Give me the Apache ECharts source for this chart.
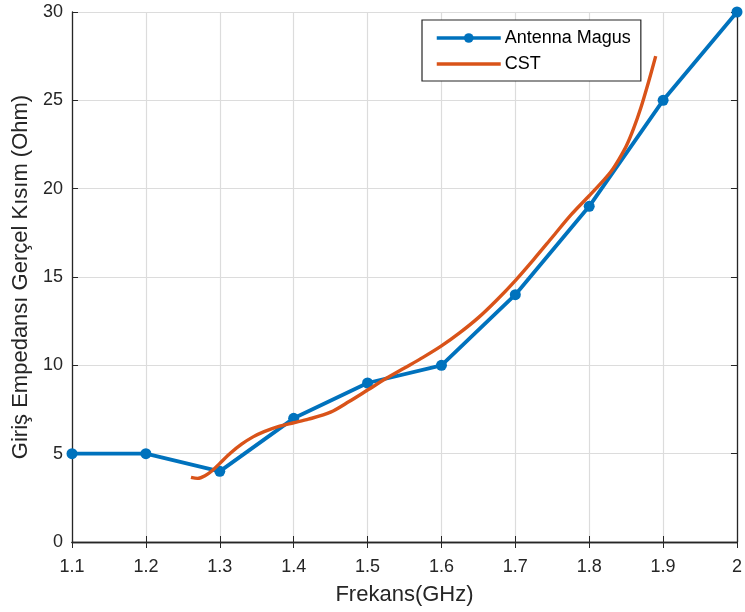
<!DOCTYPE html>
<html>
<head>
<meta charset="utf-8">
<script src="https://cdn.jsdelivr.net/npm/echarts@6/dist/echarts.min.js"></script>
<style>html,body{margin:0;padding:0;background:#fff}#c{width:745px;height:612px}</style>
</head>
<body>
<div id="c"></div>
<script>
const magusFreq = [1.1, 1.2, 1.3, 1.4, 1.5, 1.6, 1.7, 1.8, 1.9, 2.0];
const magusVal  = [5, 5, 4, 7, 9, 10, 14, 19, 25, 30];
const cstFreq = [1.261, 1.27, 1.28, 1.29, 1.30, 1.315, 1.33, 1.345, 1.36, 1.38, 1.40, 1.42, 1.45, 1.475, 1.50, 1.525, 1.55, 1.575, 1.60, 1.625, 1.65, 1.675, 1.70, 1.725, 1.75, 1.775, 1.80, 1.82, 1.83, 1.84, 1.85, 1.86, 1.87, 1.88, 1.89];
const cstVal  = [3.66, 3.6, 3.75, 4.05, 4.45, 5.05, 5.55, 5.95, 6.25, 6.55, 6.75, 6.95, 7.35, 7.95, 8.6, 9.25, 9.85, 10.45, 11.1, 11.85, 12.7, 13.7, 14.8, 16.0, 17.25, 18.5, 19.6, 20.5, 21.0, 21.65, 22.4, 23.4, 24.6, 26.0, 27.5];
const seriesNames = ['Antenna Magus', 'CST'];
const xTitle = 'Frekans(GHz)';
const yTitle = 'Giriş Empedansı Gerçel Kısım (Ohm)';

const FONT = '"Liberation Sans", Arial, Helvetica, sans-serif';
const axisCol = '#262626';
const gridCol = '#dcdcdc';

const chart = echarts.init(document.getElementById('c'));
const hiddenAxis = {
  axisLine: {show: true, lineStyle: {color: axisCol, width: 1.3}},
  axisTick: {show: true, inside: true, length: 6, lineStyle: {color: axisCol}},
  axisLabel: {show: false},
  splitLine: {show: false}
};
chart.setOption({
  animation: false,
  backgroundColor: '#fff',
  textStyle: {fontFamily: FONT},
  grid: {left: 72, right: 3, top: 12, bottom: 70, containLabel: false},
  legend: {
    orient: 'vertical',
    left: 422, top: 20,
    padding: [9, 10, 8, 13],
    itemGap: 8,
    itemWidth: 64, itemHeight: 12,
    backgroundColor: '#fff',
    borderColor: axisCol, borderWidth: 1.2,
    lineStyle: {width: 3.5},
    textStyle: {fontFamily: FONT, fontSize: 18, color: '#000', padding: [0,0,0,-1]},
    data: [
      {name: seriesNames[0]},
      {name: seriesNames[1], icon: 'path://M0,0 L64,0 L64,3.5 L0,3.5 Z'}
    ]
  },
  xAxis: [{
    type: 'value', min: 1.1, max: 2.0, interval: 0.1,
    name: xTitle, nameLocation: 'middle', nameGap: 42,
    nameTextStyle: {fontSize: 22, color: axisCol, fontFamily: FONT},
    axisLine: {show: true, onZero: false, lineStyle: {color: axisCol, width: 1.3}},
    axisTick: {show: true, inside: true, length: 6, lineStyle: {color: axisCol}},
    axisLabel: {fontSize: 18, color: axisCol, margin: 16, fontFamily: FONT,
      formatter: v => String(parseFloat(v.toFixed(1)))},
    splitLine: {show: true, lineStyle: {color: gridCol, width: 1.2}}
  }, Object.assign({type: 'value', position: 'top', min: 1.1, max: 2.0, interval: 0.1}, hiddenAxis)],
  yAxis: [{
    type: 'value', min: 0, max: 30, interval: 5,
    name: yTitle, nameLocation: 'middle', nameGap: 37,
    nameTextStyle: {fontSize: 22, color: axisCol, fontFamily: FONT},
    axisLine: {show: true, onZero: false, lineStyle: {color: axisCol, width: 1.3}},
    axisTick: {show: true, inside: true, length: 6, lineStyle: {color: axisCol}},
    axisLabel: {fontSize: 18, color: axisCol, margin: 9, fontFamily: FONT},
    splitLine: {show: true, lineStyle: {color: gridCol, width: 1.2}}
  }, Object.assign({type: 'value', position: 'right', min: 0, max: 30, interval: 5}, hiddenAxis)],
  series: [{
    name: seriesNames[0], type: 'line',
    data: magusFreq.map((f, i) => [f, magusVal[i]]),
    symbol: 'circle', symbolSize: 11, showSymbol: true,
    lineStyle: {color: '#0072BD', width: 3.8},
    itemStyle: {color: '#0072BD'},
    clip: false, z: 2
  }, {
    name: seriesNames[1], type: 'line',
    data: cstFreq.map((f, i) => [f, cstVal[i]]),
    smooth: 0.3, showSymbol: false, symbol: 'none',
    lineStyle: {color: '#D95319', width: 3.4},
    itemStyle: {color: '#D95319'},
    z: 3
  }]
});
</script>
</body>
</html>
